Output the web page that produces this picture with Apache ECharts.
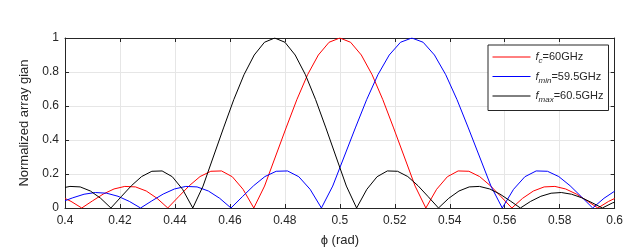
<!DOCTYPE html>
<html>
<head>
<meta charset="utf-8">
<script src="https://cdn.jsdelivr.net/npm/echarts@6/dist/echarts.min.js"></script>
<style>
html,body{margin:0;padding:0;background:#fff;}
#chart{width:626px;height:252px;}
</style>
</head>
<body>
<div id="chart"></div>
<script>
// x-axis ticks and y-axis ticks
const xTicks = [0.4, 0.42, 0.44, 0.46, 0.48, 0.5, 0.52, 0.54, 0.56, 0.58, 0.6];
const yTicks = [0, 0.2, 0.4, 0.6, 0.8, 1];

// f_c = 60 GHz (red)
const redPhi = [0.4, 0.40219, 0.4061, 0.41001, 0.41392, 0.41784, 0.42175, 0.42566, 0.42957, 0.43349, 0.4374,
  0.44131, 0.44522, 0.44914, 0.45305, 0.45696, 0.46087, 0.46479, 0.4687,
  0.47261, 0.47652, 0.48044, 0.48435, 0.48826, 0.49218, 0.49609, 0.5,
  0.50391, 0.50782, 0.51174, 0.51565, 0.51956, 0.52348, 0.52739, 0.5313,
  0.53521, 0.53913, 0.54304, 0.54695, 0.55086, 0.55478, 0.55869, 0.5626,
  0.56651, 0.57043, 0.57434, 0.57825, 0.58216, 0.58608, 0.58999, 0.5939, 0.59781, 0.6];
const redGain = [0.056, 0.039, 0, 0.042, 0.082, 0.112, 0.127, 0.124, 0.100, 0.057, 0,
  0.066, 0.131, 0.185, 0.216, 0.218, 0.184, 0.110, 0,
  0.129, 0.300, 0.471, 0.637, 0.784, 0.900, 0.975, 1,
  0.975, 0.900, 0.784, 0.637, 0.471, 0.300, 0.129, 0,
  0.110, 0.184, 0.218, 0.216, 0.185, 0.131, 0.066, 0,
  0.057, 0.100, 0.124, 0.127, 0.112, 0.082, 0.042, 0, 0.039, 0.056];

// f_min = 59.5 GHz (blue)
const bluePhi = [0.4, 0.40283, 0.40694, 0.41105, 0.41516, 0.41928, 0.42339, 0.4275,
  0.43161, 0.43573, 0.43984, 0.44395, 0.44806, 0.45218, 0.45629, 0.4604,
  0.46451, 0.46863, 0.47274, 0.47685, 0.48096, 0.48508, 0.48919, 0.4933,
  0.49741, 0.50153, 0.50564, 0.50975, 0.51386, 0.51798, 0.52209, 0.5262,
  0.53031, 0.53443, 0.53854, 0.54265, 0.54676, 0.55088, 0.55499, 0.5591,
  0.56321, 0.56733, 0.57144, 0.57555, 0.57966, 0.58378, 0.58789, 0.592, 0.59611, 0.6];
const blueGain = [0.043, 0.060, 0.081, 0.091, 0.087, 0.069, 0.039, 0,
  0.042, 0.082, 0.112, 0.127, 0.124, 0.100, 0.057, 0,
  0.066, 0.131, 0.185, 0.216, 0.218, 0.184, 0.110, 0,
  0.129, 0.300, 0.471, 0.637, 0.784, 0.900, 0.975, 1,
  0.975, 0.900, 0.784, 0.637, 0.471, 0.300, 0.129, 0,
  0.110, 0.184, 0.218, 0.216, 0.185, 0.131, 0.066, 0, 0.057, 0.099];

// f_max = 60.5 GHz (black)
const blackPhi = [0.4, 0.4018, 0.40553, 0.40925, 0.41298, 0.4167,
  0.42043, 0.42415, 0.42788, 0.4316, 0.43533, 0.43905, 0.44278, 0.4465,
  0.45023, 0.45395, 0.45768, 0.4614, 0.46513, 0.46885, 0.47258, 0.4763,
  0.48003, 0.48375, 0.48748, 0.4912, 0.49493, 0.49865, 0.50238, 0.5061,
  0.50983, 0.51355, 0.51728, 0.521, 0.52473, 0.52845, 0.53218, 0.5359,
  0.53963, 0.54335, 0.54708, 0.5508, 0.55453, 0.55825, 0.56198, 0.5657,
  0.56943, 0.57315, 0.57688, 0.5806, 0.58433, 0.58805, 0.59178, 0.5955, 0.59923, 0.6];
const blackGain = [0.121, 0.127, 0.124, 0.100, 0.057, 0,
  0.066, 0.131, 0.185, 0.216, 0.218, 0.184, 0.110, 0,
  0.129, 0.300, 0.471, 0.637, 0.784, 0.900, 0.975, 1,
  0.975, 0.900, 0.784, 0.637, 0.471, 0.300, 0.129, 0,
  0.110, 0.184, 0.218, 0.216, 0.185, 0.131, 0.066, 0,
  0.057, 0.100, 0.124, 0.127, 0.112, 0.082, 0.042, 0,
  0.039, 0.069, 0.087, 0.091, 0.081, 0.060, 0.031, 0, 0.030, 0.034];

const seriesNames = ['fc', 'fmin', 'fmax'];
const seriesColors = ['#ff0000', '#0000ff', '#000000'];
const legendLabels = {
  fc: '{i|f}{s|c}{n|=60GHz}',
  fmin: '{i|f}{s|min}{n|=59.5GHz}',
  fmax: '{i|f}{s|max}{n|=60.5GHz}'
};

const pair = (xs, ys) => xs.map((x, i) => [x, ys[i]]);
const txt = '#262626';
const font = '"Liberation Sans", Arial, Helvetica, sans-serif';

const chart = echarts.init(document.getElementById('chart'), null, {renderer: 'canvas'});
const axisCommon = {
  axisLine: {show: true, onZero: false, lineStyle: {color: txt, width: 1}},
  axisTick: {show: true, inside: true, length: 4, lineStyle: {color: txt}},
  minorTick: {show: false}
};
chart.setOption({
  animation: false,
  backgroundColor: '#fff',
  textStyle: {fontFamily: font},
  grid: {left: 65, right: 8, top: 38, bottom: 39, containLabel: false},
  xAxis: [
    Object.assign({
      type: 'value', min: xTicks[0], max: xTicks[xTicks.length - 1], interval: 0.02,
      position: 'bottom',
      name: 'ϕ (rad)', nameLocation: 'middle', nameGap: 26,
      nameTextStyle: {color: txt, fontSize: 13, fontFamily: font},
      axisLabel: {color: txt, fontSize: 12, margin: 7, fontFamily: font,
        formatter: v => String(+v.toFixed(2))},
      splitLine: {show: true, lineStyle: {color: '#e6e6e6', width: 1}}
    }, axisCommon),
    Object.assign({
      type: 'value', min: xTicks[0], max: xTicks[xTicks.length - 1], interval: 0.02,
      position: 'top', axisLabel: {show: false}, splitLine: {show: false}
    }, axisCommon)
  ],
  yAxis: [
    Object.assign({
      type: 'value', min: yTicks[0], max: yTicks[yTicks.length - 1], interval: 0.2,
      position: 'left',
      name: 'Normalized array gian', nameLocation: 'middle', nameGap: 24,
      nameTextStyle: {color: txt, fontSize: 13, fontFamily: font},
      axisLabel: {color: txt, fontSize: 12, margin: 6, fontFamily: font,
        formatter: v => String(+v.toFixed(1))},
      splitLine: {show: true, lineStyle: {color: '#e6e6e6', width: 1}}
    }, axisCommon),
    Object.assign({
      type: 'value', min: yTicks[0], max: yTicks[yTicks.length - 1], interval: 0.2,
      position: 'right', axisLabel: {show: false}, splitLine: {show: false}
    }, axisCommon)
  ],
  legend: {
    orient: 'vertical', left: 488, top: 45,
    data: seriesNames.map((n, i) => ({name: n, lineStyle: {color: seriesColors[i], width: 1}})),
    backgroundColor: '#fff', borderColor: txt, borderWidth: 1, borderRadius: 0,
    padding: [6.5, 5, 6.5, 4], itemGap: 6,
    itemWidth: 38, itemHeight: 12,
    itemStyle: {opacity: 0},
    lineStyle: {width: 1},
    formatter: name => legendLabels[name],
    textStyle: {
      color: txt, fontSize: 11, fontFamily: font,
      rich: {
        i: {fontStyle: 'italic', fontSize: 11, color: txt, fontFamily: font, lineHeight: 16, verticalAlign: 'middle'},
        s: {fontStyle: 'italic', fontSize: 8, color: txt, fontFamily: font, lineHeight: 8, verticalAlign: 'bottom'},
        n: {fontSize: 11, color: txt, fontFamily: font, lineHeight: 16, verticalAlign: 'middle'}
      }
    }
  },
  series: [
    {name: 'fc', type: 'line', data: pair(redPhi, redGain), symbol: 'none', showSymbol: false,
      itemStyle: {color: seriesColors[0]}, lineStyle: {width: 1, color: seriesColors[0]}, z: 3},
    {name: 'fmin', type: 'line', data: pair(bluePhi, blueGain), symbol: 'none', showSymbol: false,
      itemStyle: {color: seriesColors[1]}, lineStyle: {width: 1, color: seriesColors[1]}, z: 3},
    {name: 'fmax', type: 'line', data: pair(blackPhi, blackGain), symbol: 'none', showSymbol: false,
      itemStyle: {color: seriesColors[2]}, lineStyle: {width: 1, color: seriesColors[2]}, z: 3}
  ]
});
</script>
</body>
</html>
